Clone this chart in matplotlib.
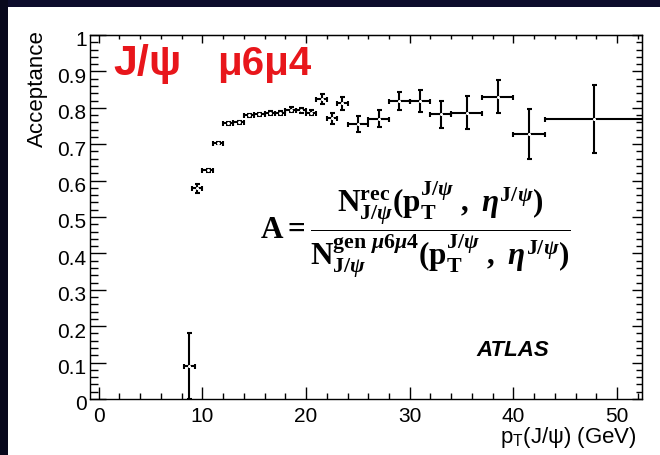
import matplotlib
matplotlib.use("Agg")
import matplotlib.pyplot as plt
from matplotlib.patches import Rectangle
from matplotlib.transforms import ScaledTranslation
from matplotlib.ticker import MultipleLocator, FixedLocator, FixedFormatter

# J/psi acceptance vs pT (mu6mu4 trigger)
pt_center = [8.75, 9.5, 10.5, 11.5, 12.5, 13.5, 14.5, 15.5, 16.5, 17.5, 18.5,
             19.5, 20.5, 21.5, 22.5, 23.5, 25.0, 27.0, 29.0, 31.0, 33.0, 35.5,
             38.5, 41.5, 47.75]
pt_halfwidth = [0.5, 0.5, 0.5, 0.5, 0.5, 0.5, 0.5, 0.5, 0.5, 0.5, 0.5,
                0.5, 0.5, 0.5, 0.5, 0.5, 1.0, 1.0, 1.0, 1.0, 1.0, 1.5,
                1.5, 1.5, 4.75]
acceptance = [0.090, 0.579, 0.628, 0.703, 0.758, 0.760, 0.780, 0.782, 0.786,
              0.786, 0.795, 0.793, 0.787, 0.825, 0.771, 0.812, 0.755, 0.770,
              0.819, 0.819, 0.782, 0.787, 0.831, 0.728, 0.770]
acceptance_err = [0.090, 0.012, 0.003, 0.003, 0.004, 0.004, 0.004, 0.004,
                  0.005, 0.005, 0.006, 0.006, 0.007, 0.014, 0.016, 0.017,
                  0.022, 0.023, 0.025, 0.030, 0.037, 0.046, 0.046, 0.069,
                  0.093]

y_ticks = [0.0, 0.1, 0.2, 0.3, 0.4, 0.5, 0.6, 0.7, 0.8, 0.9, 1.0]
y_ticklabels = ["0", "0.1", "0.2", "0.3", "0.4", "0.5", "0.6", "0.7", "0.8", "0.9", "1"]
x_ticks = [0, 10, 20, 30, 40, 50]
x_ticklabels = ["0", "10", "20", "30", "40", "50"]

plt.rcParams["font.family"] = ["Liberation Sans", "DejaVu Sans"]
plt.rcParams["mathtext.fontset"] = "custom"
plt.rcParams["mathtext.rm"] = "Liberation Serif:bold"
plt.rcParams["mathtext.bf"] = "Liberation Serif:bold"
plt.rcParams["mathtext.it"] = "Liberation Serif:italic:bold"
plt.rcParams["mathtext.default"] = "rm"

W, H = 660, 456
fig = plt.figure(figsize=(W / 100, H / 100), dpi=100, facecolor="white")

# slide frame strips
fig.add_artist(Rectangle((0, 1 - 8 / H), 1, 8 / H, transform=fig.transFigure,
                         facecolor="#0d0c2c", edgecolor="none", zorder=10))
fig.add_artist(Rectangle((0, 0), 8 / W, 1, transform=fig.transFigure,
                         facecolor="#08081c", edgecolor="none", zorder=10))

L, R, T, B = 90, 642, 36, 400
ax = fig.add_axes([L / W, (H - B) / H, (R - L) / W, (B - T) / H])
ax.set_xlim(-0.84, 52.4)
ax.set_ylim(0, 1.0)
for s in ax.spines.values():
    s.set_linewidth(1.0)
    s.set_color("black")

ax.errorbar(pt_center, acceptance, xerr=pt_halfwidth, yerr=acceptance_err,
            fmt="o", ms=2.2, mfc="white", mec="none", ecolor="black",
            elinewidth=1.5, capsize=1.8, capthick=1.5, zorder=3)

# axis ticks (inward, ROOT style)
ax.xaxis.set_major_locator(FixedLocator(x_ticks))
ax.xaxis.set_major_formatter(FixedFormatter(x_ticklabels))
ax.xaxis.set_minor_locator(MultipleLocator(2))
ax.yaxis.set_major_locator(FixedLocator(y_ticks))
ax.yaxis.set_major_formatter(FixedFormatter(y_ticklabels))
ax.yaxis.set_minor_locator(MultipleLocator(0.02))
ax.tick_params(axis="x", which="major", direction="in", length=8.6, width=1.0,
               labelsize=15, pad=5)
ax.tick_params(axis="x", which="minor", direction="in", length=4.3, width=1.0)
ax.tick_params(axis="y", which="major", direction="in", length=11.5, width=1.0,
               labelsize=15, pad=2.5)
ax.tick_params(axis="y", which="minor", direction="in", length=6.0, width=1.0)

top = ax.secondary_xaxis("top")
top.xaxis.set_major_locator(FixedLocator(x_ticks))
top.xaxis.set_minor_locator(MultipleLocator(2))
top.tick_params(which="major", direction="in", length=5.5, width=1.0, labeltop=False)
top.tick_params(which="minor", direction="in", length=3.0, width=1.0)

right = ax.secondary_yaxis("right")
right.yaxis.set_major_locator(FixedLocator(y_ticks))
right.yaxis.set_minor_locator(MultipleLocator(0.02))
right.tick_params(which="major", direction="in", length=7.2, width=1.0, labelright=False)
right.tick_params(which="minor", direction="in", length=4.2, width=1.0)

# y tick labels sit slightly below their ticks
shift_down = ScaledTranslation(0, -3 / 100, fig.dpi_scale_trans)
for lab in ax.yaxis.get_majorticklabels():
    lab.set_transform(lab.get_transform() + shift_down)

# axis titles
ax.text(-0.096, 1.016, "Acceptance", transform=ax.transAxes, rotation=90,
        rotation_mode="anchor", ha="right", va="center", fontsize=16)
ax.text(0.991, -0.119, r"$\mathregular{p_T}$(J/ψ) (GeV)", transform=ax.transAxes,
        ha="right", va="baseline", fontsize=16)

# channel label
ax.text(0.042, 0.892, "J/ψ", transform=ax.transAxes, ha="left",
        va="baseline", fontsize=31, fontweight="bold", color="#e8161b")
ax.text(0.230, 0.892, "μ6μ4", transform=ax.transAxes, ha="left",
        va="baseline", fontsize=29, fontweight="bold", color="#e8161b")

# acceptance definition
num = (r"\mathrm{N}^{\mathrm{rec}}_{\mathrm{J/}\mathit{\psi}}"
       r"(\mathrm{p}_{\mathrm{T}}^{\mathrm{J/}\mathit{\psi}}\ ,\ "
       r"\mathit{\eta}^{\mathrm{J/}\mathit{\psi}})")
den = (r"\mathrm{N}^{\mathrm{gen}\ \mathit{\mu}6\mathit{\mu}4}_{\mathrm{J/}\mathit{\psi}}"
       r"(\mathrm{p}_{\mathrm{T}}^{\mathrm{J/}\mathit{\psi}}\ ,\ "
       r"\mathit{\eta}^{\mathrm{J/}\mathit{\psi}})")
ax.text(0.59, 0.467, r"$\mathrm{A} = \dfrac{" + num + "}{" + den + "}$",
        transform=ax.transAxes, ha="center", va="center", fontsize=22.5)

ax.text(0.766, 0.135, "ATLAS", transform=ax.transAxes, ha="center",
        va="center", fontsize=16, fontweight="bold", fontstyle="italic")

fig.savefig("out.png", dpi=100, facecolor="white")
